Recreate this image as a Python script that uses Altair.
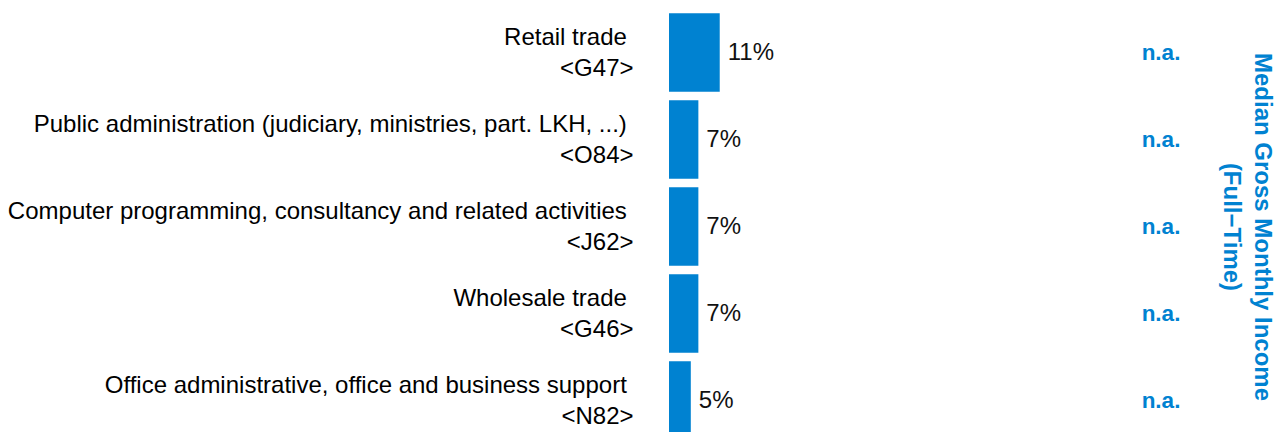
import altair as alt
import pandas as pd

# ---- data ----
industries = [
    "Retail trade",
    "Public administration (judiciary, ministries, part. LKH, ...)",
    "Computer programming, consultancy and related activities",
    "Wholesale trade",
    "Office administrative, office and business support",
]
codes = ["<G47>", "<O84>", "<J62>", "<G46>", "<N82>"]
shares = [11.4, 6.6, 6.6, 6.6, 4.9]          # share in percent
income = ["n.a.", "n.a.", "n.a.", "n.a.", "n.a."]
income_title = ["Median Gross Monthly Income", "(Full\u2212Time)"]

BLUE = "#0082D1"
FONT = "Liberation Sans"

df = pd.DataFrame({
    # trailing nbsp + zero-width space so the first line keeps its trailing gap
    "industry": [f"{n}\u00a0\u200b|{c}" for n, c in zip(industries, codes)],
    "share": shares,
    "income": income,
})

yscale = alt.Scale(paddingInner=0.095, paddingOuter=0.0475)
xscale = alt.Scale(domain=[0, 100])

left_axis = alt.Axis(
    orient="left", title=None, ticks=False, domain=False, grid=False,
    labelFontSize=24, labelFont=FONT, labelColor="#000000",
    labelPadding=36, labelLimit=0, labelLineHeight=31, labelOffset=-14.5,
    labelExpr="split(datum.label, '|')", labelAlign="right", labelBaseline="middle",
)
right_axis = alt.Axis(
    orient="right", labels=False, ticks=False, domain=False, grid=False,
    title=income_title, titleFontSize=24, titleFont=FONT, titleFontWeight="bold",
    titleColor=BLUE, titlePadding=104, titleLineHeight=31,
)

base = alt.Chart(df)

bars = base.mark_bar(color=BLUE).encode(
    x=alt.X("share:Q", scale=xscale, axis=None),
    y=alt.Y("industry:N", sort=None, scale=yscale, axis=left_axis),
)

pct = base.transform_calculate(
    label="format(datum.share, '.0f') + '%'"
).mark_text(
    align="left", baseline="middle", dx=8, fontSize=24, font=FONT, color="#111111"
).encode(
    x=alt.X("share:Q", scale=xscale, axis=None),
    y=alt.Y("industry:N", sort=None, scale=yscale, axis=None),
    text="label:N",
)

na = base.mark_text(
    align="center", baseline="middle", fontSize=22.5, font=FONT,
    fontWeight="bold", color=BLUE,
).encode(
    x=alt.value(492),
    y=alt.Y("industry:N", sort=None, scale=yscale, axis=right_axis),
    text="income:N",
)

chart = alt.layer(bars, pct, na).resolve_axis(y="independent").properties(
    width=445,
    height=435,
    autosize=alt.AutoSizeParams(type="none"),
    padding={"left": 661, "top": 1, "right": 160, "bottom": 0},
).configure_view(stroke=None)

chart.save("out.html", embed_options={"renderer": "svg", "actions": False})
